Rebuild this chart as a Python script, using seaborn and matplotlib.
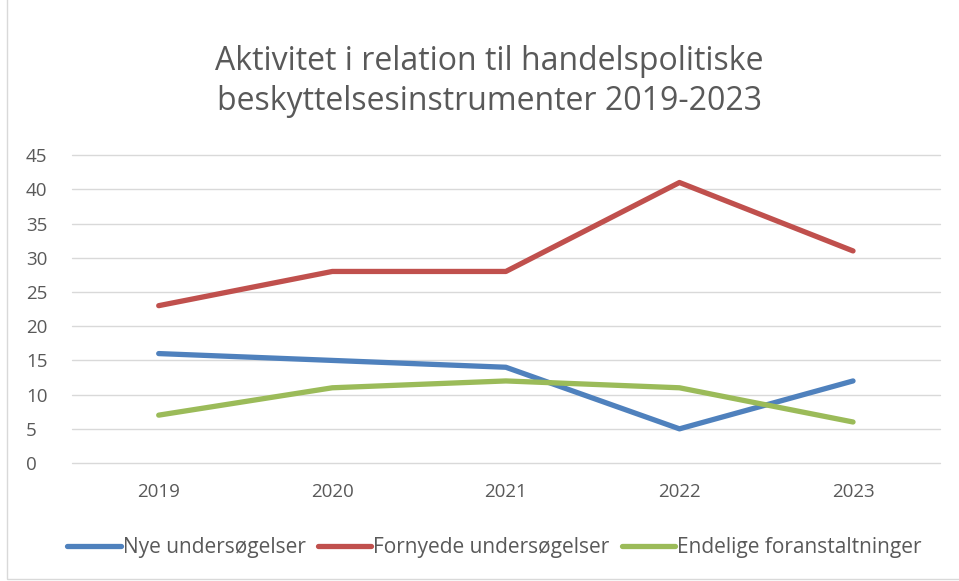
import pandas as pd
import seaborn as sns
import matplotlib.pyplot as plt
from matplotlib.patches import Rectangle

years = ["2019", "2020", "2021", "2022", "2023"]
nye = [16, 15, 14, 5, 12]
fornyede = [23, 28, 28, 41, 31]
endelige = [7, 11, 12, 11, 6]

series_names = ["Nye undersøgelser", "Fornyede undersøgelser", "Endelige foranstaltninger"]
colors = ["#4F81BD", "#C0504D", "#9BBB59"]

df = pd.DataFrame({
    "year": years * 3,
    "value": nye + fornyede + endelige,
    "serie": [series_names[0]] * 5 + [series_names[1]] * 5 + [series_names[2]] * 5,
})

sns.set_style("white")
plt.rcParams["font.family"] = ["Open Sans", "DejaVu Sans"]

fig = plt.figure(figsize=(9.59, 5.81), dpi=100)
ax = fig.add_axes([0.075, 0.203, 0.905, 0.530])

sns.lineplot(data=df, x="year", y="value", hue="serie", palette=colors,
             linewidth=3.8, sort=False, ax=ax, legend=True)

ax.set_xlim(-0.5, 4.5)
ax.set_ylim(0, 45)
ax.set_yticks(range(0, 50, 5))
ax.grid(axis="y", color="#D9D9D9", linewidth=1)
for gl in ax.get_ygridlines():
    gl.set_clip_on(False)
ax.set_axisbelow(True)
for s in ax.spines.values():
    s.set_visible(False)
ax.tick_params(axis="both", length=0, labelsize=13.5, colors="#595959")
ax.tick_params(axis="x", pad=14)
ax.tick_params(axis="y", pad=33)
for lbl in ax.get_yticklabels():
    lbl.set_horizontalalignment("left")
ax.set_xlabel("")
ax.set_ylabel("")

handles, labels = ax.get_legend_handles_labels()
ax.legend(handles, labels, loc="center", bbox_to_anchor=(0.487, -0.275), ncol=3,
          frameon=False, fontsize=15, labelcolor="#595959", handlelength=2.55,
          handletextpad=0.1, columnspacing=0.6)

fig.text(0.51, 0.86, "Aktivitet i relation til handelspolitiske\nbeskyttelsesinstrumenter 2019-2023",
         ha="center", va="center", fontsize=23, color="#595959", linespacing=1.3)

fig.patches.append(Rectangle((0.007, 0.004), 1.2, 1.2, transform=fig.transFigure,
                             fill=False, edgecolor="#D9D9D9", linewidth=1))

fig.savefig("out.png", dpi=100)
